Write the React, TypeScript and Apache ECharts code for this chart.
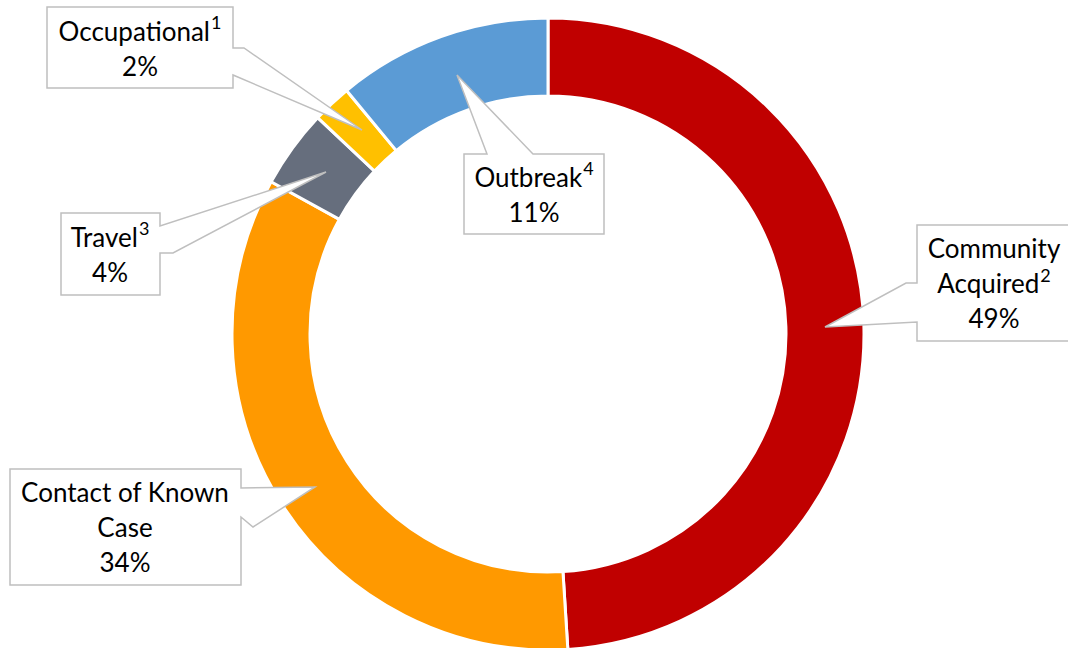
import React, { useEffect, useRef } from "react";
import * as echarts from "echarts";

// ---- data (clockwise from 12 o'clock) ----
const categories = ["Community Acquired", "Contact of Known Case", "Travel", "Occupational", "Outbreak"];
const labelLines = [["Community", "Acquired"], ["Contact of Known", "Case"], ["Travel"], ["Occupational"], ["Outbreak"]];
const footnotes = ["2", "", "3", "1", "4"];
const values = [49, 34, 4, 2, 11];
const colors = ["#C00000", "#FF9900", "#666E7D", "#FFC000", "#5B9BD5"];

// ---- callout layout (box + pointer outline) ----
const callouts: { cx: number; cy: number; pts: number[][] }[] = [
  { cx: 994, cy: 283, pts: [[917, 225], [1075, 225], [1075, 341], [917, 341], [917, 322], [825, 327], [906, 283], [917, 283]] },
  { cx: 125, cy: 527, pts: [[10, 469], [241, 469], [241, 488], [315, 487], [253, 527], [241, 517], [241, 585], [10, 585]] },
  { cx: 110, cy: 254, pts: [[61, 213], [160, 213], [160, 226], [326, 172], [173, 253], [160, 253], [160, 295], [61, 295]] },
  { cx: 140, cy: 48, pts: [[47, 7], [233, 7], [233, 48], [244, 48], [362, 130], [233, 75], [233, 88], [47, 88]] },
  { cx: 534, cy: 194, pts: [[464, 154], [487, 154], [457, 75], [533, 154], [604, 154], [604, 234], [464, 234]] },
];

const FONT = "Lato, 'Open Sans', sans-serif";

export default function App() {
  const ref = useRef<HTMLDivElement>(null);
  useEffect(() => {
    if (!ref.current) return;
    const chart = echarts.init(ref.current, undefined, { renderer: "svg" });
    const graphics: any[] = [];
    categories.forEach((_, i) => {
      const c = callouts[i];
      graphics.push({
        type: "polygon",
        z: 10,
        shape: { points: c.pts },
        style: { fill: "#ffffff", stroke: "#BFBFBF", lineWidth: 1.5 },
      });
      const lines = labelLines[i].map((l, k) =>
        k === labelLines[i].length - 1 && footnotes[i] ? `{n|${l}}{s|${footnotes[i]}}` : `{n|${l}}`
      );
      lines.push(`{n|${values[i]}%}`);
      graphics.push({
        type: "text",
        z: 11,
        x: c.cx,
        y: c.cy,
        style: {
          text: lines.join("\n"),
          align: "center",
          verticalAlign: "middle",
          fill: "#000000",
          rich: {
            n: { fontSize: 26, fontFamily: FONT, lineHeight: 35, fill: "#000" },
            s: { fontSize: 18, fontFamily: FONT, lineHeight: 35, verticalAlign: "top", padding: [0, 0, 12, 1], fill: "#000" },
          },
        },
      });
    });
    chart.setOption({
      animation: false,
      backgroundColor: "#ffffff",
      series: [
        {
          type: "pie",
          center: [548, 334],
          radius: [238, 316],
          startAngle: 90,
          clockwise: true,
          label: { show: false },
          labelLine: { show: false },
          itemStyle: { borderColor: "#ffffff", borderWidth: 3 },
          emphasis: { disabled: true },
          data: categories.map((name, i) => ({ name, value: values[i], itemStyle: { color: colors[i] } })),
        },
      ],
      graphic: graphics,
    });
    return () => chart.dispose();
  }, []);
  return <div ref={ref} style={{ position: "fixed", left: 0, top: 0, width: 1068, height: 648 }} />;
}
